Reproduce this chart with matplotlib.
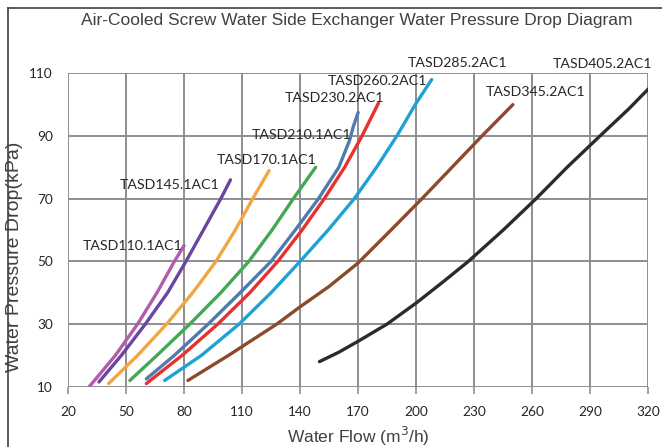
import matplotlib
matplotlib.use("Agg")
import matplotlib.pyplot as plt
from matplotlib.lines import Line2D

# ---- data ----
x110 = [31, 44.5, 56, 66, 75, 80]
y110 = [10, 20, 30, 40, 50, 55]

x145 = [36, 47.6, 60, 71.5, 81, 90, 99, 104]
y145 = [11.5, 20, 30, 40, 50, 60, 70, 76]

x170 = [41, 56, 71, 84.5, 96.5, 106.5, 115.5, 124]
y170 = [11, 20, 30, 40, 50, 60, 70, 79]

x210 = [52, 66, 83, 99, 113.5, 125.5, 136.5, 148]
y210 = [12, 20, 30, 40, 50, 60, 70, 80]

x230 = [60.5, 75, 92.5, 109, 125, 137.5, 149.5, 160, 165.5, 167.5, 170]
y230 = [12.5, 20, 30, 40, 50, 60, 70, 80, 88.5, 93, 97.5]

x260 = [60.5, 79, 97.5, 114, 128.5, 141, 152.5, 163, 172, 180.5]
y260 = [11, 20, 30, 40, 50, 60, 70, 80, 90, 100.5]

x285 = [70, 89, 108.5, 125, 140, 154.5, 168, 179.5, 190, 199.5, 208]
y285 = [12, 20, 30, 40, 50, 60, 70, 80, 90, 100, 108]

x345 = [82, 103, 128, 140, 155, 170, 187, 203, 218.5, 234, 250]
y345 = [12, 20, 30, 35.5, 42, 49.5, 60, 70, 80, 90, 100]

x405 = [150, 160, 170, 185, 200, 214, 227, 245, 262, 278, 295, 310, 320]
y405 = [18, 21, 24.5, 30, 36.7, 43.5, 50, 60, 70, 80, 90, 98.7, 105]

names = ["TASD110.1AC1", "TASD145.1AC1", "TASD170.1AC1", "TASD210.1AC1",
         "TASD230.2AC1", "TASD260.2AC1", "TASD285.2AC1", "TASD345.2AC1",
         "TASD405.2AC1"]
xs = [x110, x145, x170, x210, x230, x260, x285, x345, x405]
ys = [y110, y145, y170, y210, y230, y260, y285, y345, y405]
colors = ["#B25DAB", "#6B46A0", "#F0A742", "#43A853", "#4F7CAE",
          "#E8312F", "#1EA2D6", "#8B4A2B", "#2B2B2B"]
# label anchor (left edge, vertical centre) in data units
label_x = [27.8, 46.7, 96.9, 115, 132.2, 154.1, 195.7, 236.1, 270.6]
label_y = [54.8, 74.2, 82.4, 90.3, 102.2, 107.6, 113.4, 104.1, 113.0]

xticks = [20, 50, 80, 110, 140, 170, 200, 230, 260, 290, 320]
yticks = [10, 30, 50, 70, 90, 110]

title = "Air-Cooled Screw Water Side Exchanger Water Pressure Drop Diagram"
xlabel = "Water Flow (m$^{3}$/h)"
ylabel = "Water Pressure Drop(kPa)"

# ---- figure ----
W, H = 662, 447
fig = plt.figure(figsize=(W / 100, H / 100), dpi=100)
ax = fig.add_axes([68 / W, 1 - 386.7 / H, (648.3 - 68) / W, (386.7 - 73.3) / H])

grid_c = "#8E8E93"
for xv in xticks:
    ax.axvline(xv, color=grid_c, lw=1.4, zorder=1)
for yv in yticks:
    ax.axhline(yv, color=grid_c, lw=1.4, zorder=1)

for x, y, c in zip(xs, ys, colors):
    ax.plot(x, y, color=c, lw=2.4, solid_capstyle="round",
            solid_joinstyle="round", zorder=3)

for n, lx, ly in zip(names, label_x, label_y):
    ax.text(lx, ly, n, ha="left", va="center", fontsize=10.2, family="Lato",
            color="#262626", clip_on=False, zorder=4)

ax.set_xlim(20, 320)
ax.set_ylim(10, 110)
ax.set_xticks(xticks)
ax.set_yticks(yticks)
ax.set_xticklabels([str(v) for v in xticks], family="Lato", fontsize=9.8, color="#262626")
ax.set_yticklabels([str(v) for v in yticks], family="Lato", fontsize=9.8, color="#262626")
ax.tick_params(axis="x", length=5, width=1.2, color=grid_c, pad=9)
ax.tick_params(axis="y", length=0, pad=11)
for s in ax.spines.values():
    s.set_visible(False)

ax.set_xlabel(xlabel, family="Liberation Sans", fontsize=12.5, color="#404040", labelpad=5)
ax.set_ylabel(ylabel, family="Liberation Sans", fontsize=14, color="#404040")
ax.yaxis.set_label_coords(-(68 - 23.5) / (648.3 - 68), (386.7 - 257) / (386.7 - 73.3))

fig.text(357 / W, 1 - 21 / H, title, ha="center", va="center",
         family="Liberation Sans", fontsize=12.5, color="#404040")

# outer chart border (left and top edges visible)
fig.add_artist(Line2D([7.5 / W, 7.5 / W], [0, 1 - 7.5 / H], color="#404040", lw=1.2,
                      transform=fig.transFigure))
fig.add_artist(Line2D([7.5 / W, 1], [1 - 7.5 / H, 1 - 7.5 / H], color="#404040", lw=1.2,
                      transform=fig.transFigure))

fig.savefig("out.png", dpi=100)
